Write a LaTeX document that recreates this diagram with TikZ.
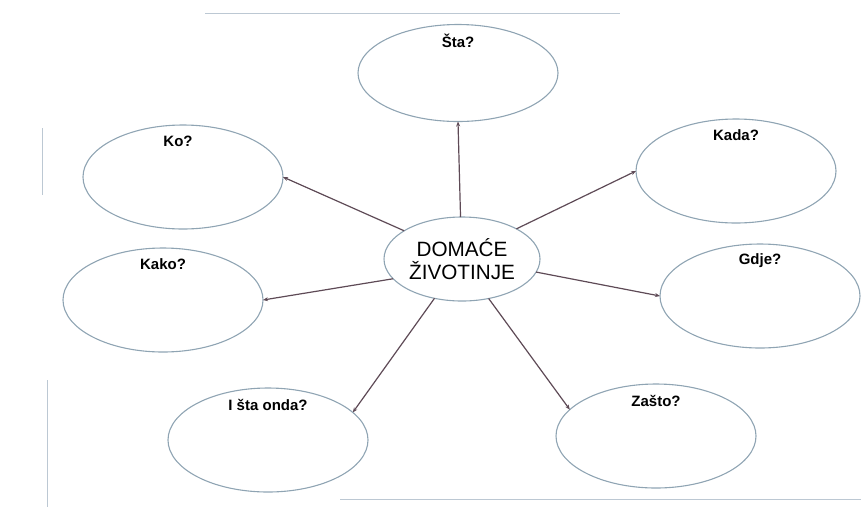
\documentclass[tikz,border=0pt]{standalone}
\usepackage{fontspec}
\setmainfont{Liberation Sans}
\usetikzlibrary{shapes.geometric,arrows.meta}
\definecolor{rim}{HTML}{8FA4B3}
\definecolor{linkcol}{HTML}{5E4A56}
\definecolor{framecol}{HTML}{BCC8D3}
\begin{document}
\begin{tikzpicture}[x=1pt,y=-1pt,
 bubble/.style={ellipse,draw=rim,line width=1.1pt,minimum width=200pt,minimum height=104pt,inner sep=0pt,outer sep=0pt},
 hub/.style={ellipse,draw=rim,line width=1.1pt,minimum width=156pt,minimum height=84pt,inner sep=0pt,outer sep=0pt,align=center,font=\fontsize{20.7}{22.5}\selectfont},
 qlabel/.style={font=\bfseries\fontsize{15}{17}\selectfont,inner sep=0pt,anchor=center,yshift=-16.5pt},
 link/.style={draw=linkcol,line width=1.2pt,-{Stealth[length=5pt,width=4pt]}},
 scanframe/.style={draw=framecol,line width=0.9pt}]
\useasboundingbox (0,0) rectangle (861,507);
% faint page border
\draw[scanframe] (205,13) -- (620,13);
\draw[scanframe] (340,499) -- (861,499);
\draw[scanframe] (42,128) -- (42,195);
\draw[scanframe] (47,380) -- (47,507);
% hub
\node[hub] (c) at (462,259) {DOMAĆE\\ŽIVOTINJE};
% bubbles
\node[bubble,minimum height=97pt] (sta) at (458,73) {};
\node[bubble] (ko) at (183,177) {};
\node[bubble] (kada) at (736,171) {};
\node[bubble] (kako) at (163,300) {};
\node[bubble] (gdje) at (760,296) {};
\node[bubble] (ishta) at (268,440) {};
\node[bubble] (zasto) at (656,436) {};
% labels
\node[qlabel] (sta-t) at (sta.north) {Šta?};
\node[qlabel,xshift=-5pt] (ko-t) at (ko.north) {Ko?};
\node[qlabel] (kada-t) at (kada.north) {Kada?};
\node[qlabel] (kako-t) at (kako.north) {Kako?};
\node[qlabel] (gdje-t) at (gdje.north) {Gdje?};
\node[qlabel] (ishta-t) at (ishta.north) {I šta onda?};
\node[qlabel] (zasto-t) at (zasto.north) {Zašto?};
% connectors
\draw[link] (c.92) -- (sta.south);
\draw[link] (c.154) -- (ko.east);
\draw[link] (c.29) -- (kada.west);
\draw[link] (c.196) -- (kako.east);
\draw[link] (c.-10) -- (gdje.west);
\draw[link] (c.235) -- (ishta.18);
\draw[link] (c.-56) -- (zasto.163);
\end{tikzpicture}
\end{document}
